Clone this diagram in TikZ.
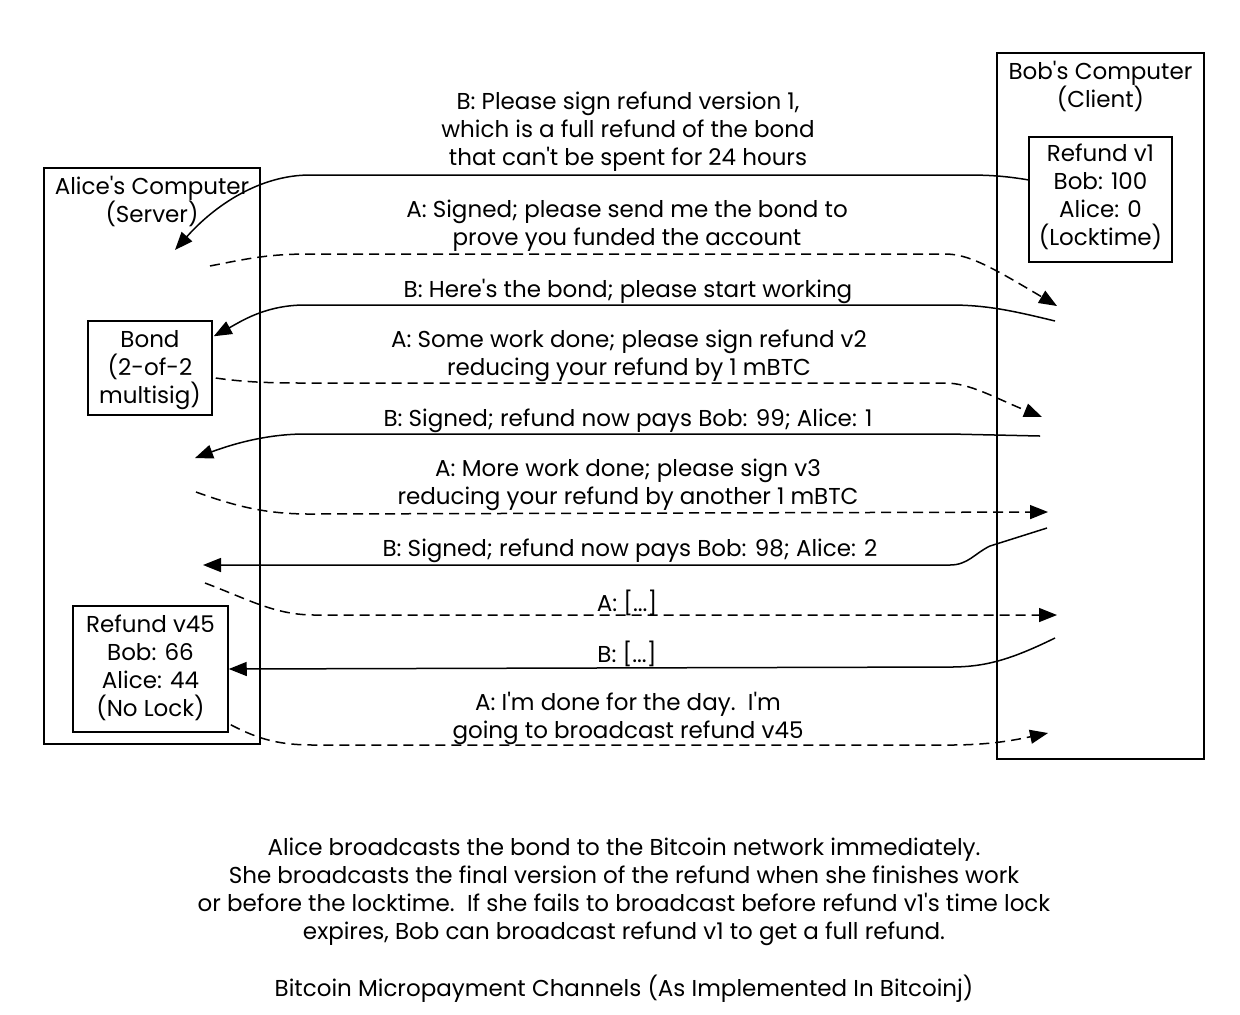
\documentclass[tikz,border=0pt]{standalone}
\usepackage{fontspec}
\setmainfont{Poppins}
\usetikzlibrary{arrows.meta,calc}
\newcommand{\apos}{\textquotesingle}
\tikzset{
  txt/.style={align=center,inner sep=0pt,font=\fontsize{11.5}{14}\selectfont},
  box/.style={draw,line width=0.75pt,inner sep=0pt},
  msg/.style={line width=0.75pt,-{Triangle[length=9pt,width=7pt]}},
  dmsg/.style={msg,dash pattern=on 5pt off 3pt},
}
\begin{document}
\begin{tikzpicture}[x=0.5pt,y=-0.5pt]
\useasboundingbox (0,0) rectangle (1240,1014);
% computers
\node[box,minimum width=108pt,minimum height=288pt] (alice) at (152,456) {};
\node[txt] (alicelbl) at (152,201) {Alice\apos s Computer\\(Server)};
\node[box,minimum width=103.5pt,minimum height=353pt] (bob) at (1100.5,406) {};
\node[txt] (boblbl) at (1100.5,86) {Bob\apos s Computer\\(Client)};
% inner boxes
\node[box,minimum width=71.5pt,minimum height=62.5pt] (v1) at (1100.5,199.5) {};
\node[txt] (v1t) at (1100.5,196.5) {Refund v1\\Bob: 100\\Alice: 0\\(Locktime)};
\node[box,minimum width=62pt,minimum height=47pt] (bond) at (150,368) {};
\node[txt] (bondt) at (150,370) {Bond\\(2-of-2\\multisig)};
\node[box,minimum width=77.5pt,minimum height=63pt] (v45) at (150.5,669) {};
\node[txt] (v45t) at (150.5,667.5) {Refund v45\\Bob: 66\\Alice: 44\\(No Lock)};
% message labels
\node[txt] (t1) at (628,132) {B: Please sign refund version 1,\\which is a full refund of the bond\\that can\apos t be spent for 24 hours};
\node[txt] (t2) at (627,226) {A: Signed; please send me the bond to\\prove you funded the account};
\node[txt] (t3) at (628,291) {B: Here\apos s the bond; please start working};
\node[txt] (t4) at (629,356) {A: Some work done; please sign refund v2\\reducing your refund by 1 mBTC};
\node[txt] (t5) at (628,421) {B: Signed; refund now pays Bob: 99; Alice: 1};
\node[txt] (t6) at (628,485) {A: More work done; please sign v3\\reducing your refund by another 1 mBTC};
\node[txt] (t7) at (630,551) {B: Signed; refund now pays Bob: 98; Alice: 2};
\node[txt] (t8) at (627,603) {A: [...]};
\node[txt] (t9) at (627,654) {B: [...]};
\node[txt] (t10) at (628,718) {A: I\apos m done for the day.\ \ I\apos m\\going to broadcast refund v45};
% endpoints
\coordinate (m1s) at (1029,180);
\coordinate (m1e) at (175,250);
\coordinate (m2s) at (210,266);
\coordinate (m2e) at (1057,306);
\coordinate (m3s) at (1055,321);
\coordinate (m4e) at (1042,417);
\coordinate (m5s) at (1040,436);
\coordinate (m5e) at (195,458);
\coordinate (m6s) at (196,492);
\coordinate (m6e) at (1048,512);
\coordinate (m7s) at (1047,528);
\coordinate (m7e) at (203,565);
\coordinate (m8s) at (205,583);
\coordinate (m8e) at (1057,615);
\coordinate (m9s) at (1055,638);
\coordinate (m10e) at (1048,733);
% messages
\draw[msg] (m1s) .. controls (1005,176) and (990,175) .. (965,175) -- (310,175) .. controls (260,175) and (215,205) .. (m1e);
\draw[dmsg] (m2s) .. controls (250,258) and (270,254) .. (310,254) -- (945,254) .. controls (968,254) and (990,266) .. (m2e);
\draw[msg] (m3s) .. controls (1010,310) and (985,305) .. (950,305) -- (305,305) .. controls (265,305) and (240,322) .. ($(bond.north east)+(1,16)$);
\draw[dmsg] ($(bond.east)+(3,10)$) .. controls (250,383) and (280,383) .. (310,383) -- (945,383) .. controls (970,383) and (995,398) .. (m4e);
\draw[msg] (m5s) -- (950,434) -- (305,434) .. controls (265,434) and (230,445) .. (m5e);
\draw[dmsg] (m6s) .. controls (240,508) and (270,514) .. (310,514) -- (m6e);
\draw[msg] (m7s) -- (990,546) .. controls (975,553) and (968,565) .. (950,565) -- (m7e);
\draw[dmsg] (m8s) .. controls (250,600) and (275,615) .. (315,615) -- (m8e);
\draw[msg] (m9s) .. controls (1010,660) and (985,667) .. (950,667) -- (v45.east);
\draw[dmsg] ($(v45.south east)+(2,-8)$) .. controls (260,740) and (280,745) .. (315,745) -- (950,745) .. controls (990,745) and (1015,740) .. (m10e);
% caption
\node[txt] (cap) at (624,891.5) {Alice broadcasts the bond to the Bitcoin network immediately.\\She broadcasts the final version of the refund when she finishes work\\or before the locktime.\ \ If she fails to broadcast before refund v1\apos s time lock\\expires, Bob can broadcast refund v1 to get a full refund.};
\node[txt] (title) at (624,989) {Bitcoin Micropayment Channels (As Implemented In Bitcoinj)};
\end{tikzpicture}
\end{document}
